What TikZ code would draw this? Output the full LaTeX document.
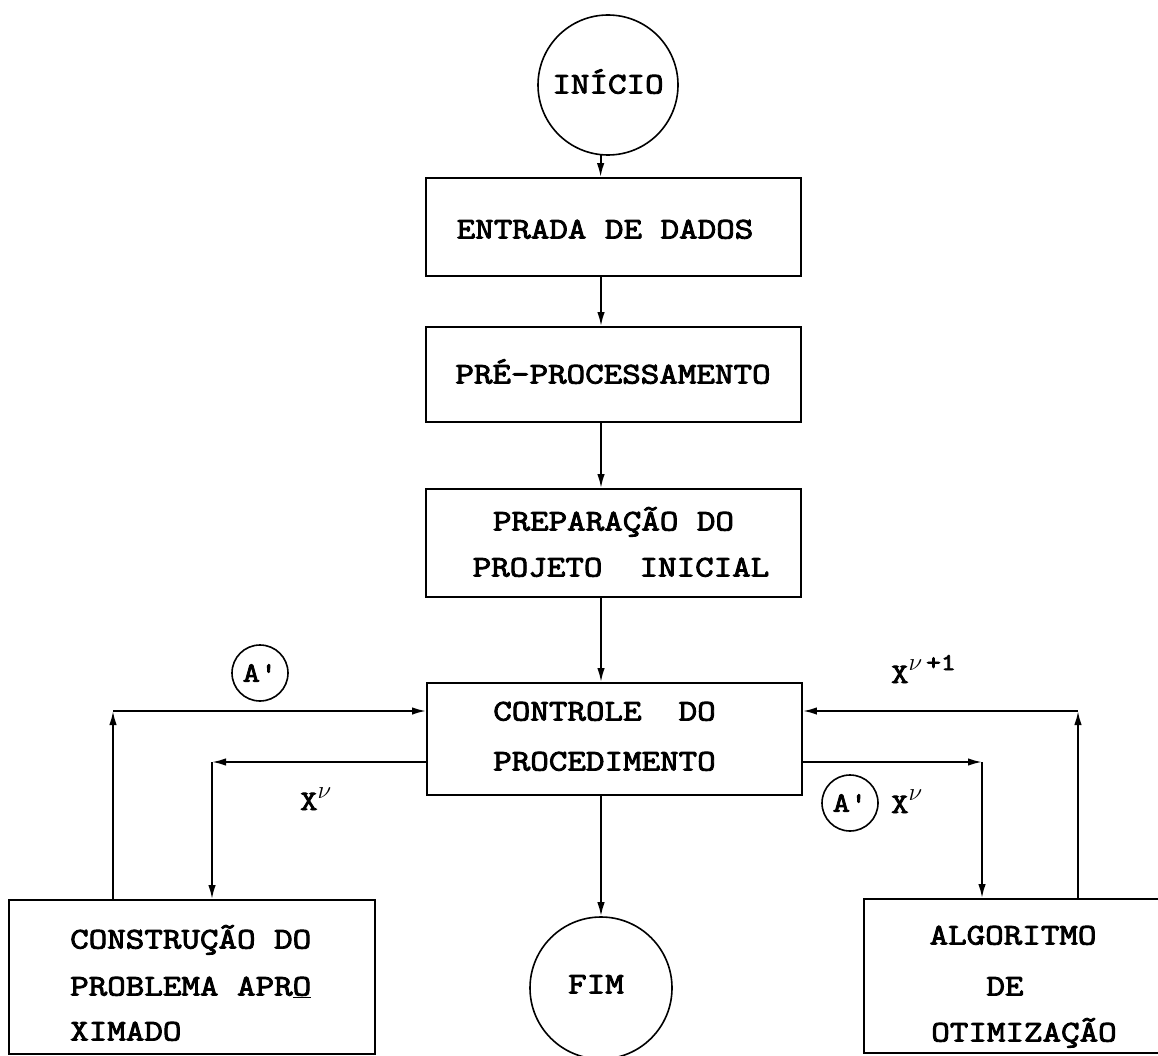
\documentclass[tikz,border=0pt]{standalone}
\usepackage{fontspec}
\newfontfamily\tw{Latin Modern Mono}[FakeStretch=1.2,FakeBold=3]
\usetikzlibrary{arrows.meta}
\begin{document}
\begin{tikzpicture}[x=1pt,y=-1pt,
  arr/.style={line width=1.9pt,-{Latex[length=14pt,width=7.5pt]}},
  box/.style={draw,line width=1.9pt,rectangle,inner sep=0pt},
  rnd/.style={draw,line width=1.6pt,circle,inner sep=0pt},
  txt/.style={font=\tw\fontsize{30}{30}\selectfont,inner sep=0pt,anchor=base},
  sml/.style={font=\tw\fontsize{28}{28}\selectfont,inner sep=0pt,anchor=base west},
  acirc/.style={rnd,minimum size=56pt,font=\tw\fontsize{28}{28}\selectfont}
]
\useasboundingbox (0,0) rectangle (1158,1056);
\clip (0,0) rectangle (1158,1056);
\fill[white] (0,0) rectangle (1158,1056);

% shapes
\node[rnd,minimum size=140pt] (ini) at (608,85) {};
\node[box,minimum width=375pt,minimum height=98pt] (ent) at (613.5,227) {};
\node[box,minimum width=375pt,minimum height=95pt] (pre) at (613.5,374.5) {};
\node[box,minimum width=375pt,minimum height=108pt] (prp) at (613.5,543) {};
\node[box,minimum width=375pt,minimum height=112pt] (ctl) at (614.5,739) {};
\node[box,minimum width=366pt,minimum height=154pt] (con) at (192,977) {};
\node[rnd,minimum size=142pt] (fim) at (601,988) {};
\node[box,minimum width=306pt,minimum height=154pt] (alg) at (1017,976) {};

% texts
\node[txt] (tini) at (608,93.5) {INÍCIO};
\node[txt] (tent) at (605,238.5) {ENTRADA DE DADOS};
\node[txt] (tpre) at (613,383.5) {PRÉ-PROCESSAMENTO};
\node[txt] (tprp1) at (613.5,530.5) {PREPARAÇÃO DO};
\node[txt] (tprp2) at (621,576.5) {PROJETO~~INICIAL};
\node[txt] (tctl1) at (604.5,720.5) {CONTROLE~~DO};
\node[txt] (tctl2) at (604.5,770.5) {PROCEDIMENTO};
\node[txt,anchor=base west] (tcon1) at (70,948.5) {CONSTRUÇÃO DO};
\node[txt,anchor=base west] (tcon2) at (70,995.5) {PROBLEMA APR\underline{O}};
\node[txt,anchor=base west] (tcon3) at (70,1040.5) {XIMADO};
\node[txt] (tfim) at (596,993.5) {FIM};
\node[txt] (talg1) at (1013,944.5) {ALGORITMO};
\node[txt] (talg2) at (1005,995.5) {DE};
\node[txt] (talg3) at (1024,1041.5) {OTIMIZAÇÃO};

% labels
\node[acirc] (a1) at (260,673) {A'};
\node[acirc] (a2) at (850,803) {A'};
\node[sml] (xl) at (300,810) {X\raisebox{12pt}{\fontsize{24}{24}\selectfont$\nu$}};
\node[sml] (xr) at (891,813) {X\raisebox{13pt}{\fontsize{24}{24}\selectfont$\nu$}};
\node[sml] (xr1) at (891,683) {X\raisebox{13pt}{\fontsize{24}{24}\selectfont$\nu$\,+1}};

% main axis
\coordinate (ax) at (601,0);
\draw[arr] (ini.264) -- (ini.264 |- ent.north);
\draw[arr] (ent.south -| ax) -- (pre.north -| ax);
\draw[arr] (pre.south -| ax) -- (prp.north -| ax);
\draw[arr] (prp.south -| ax) -- (ctl.north -| ax);
\draw[arr] (ctl.south -| ax) -- (fim.north);

% loops
\coordinate (Lup) at (113,711);
\coordinate (Ldn) at (212,762);
\coordinate (Rdn) at (982,762);
\coordinate (Rup) at (1078,711);
\draw[arr] (con.north -| Lup) -- (Lup);
\draw[arr] (Lup) -- (Lup -| ctl.west);
\draw[arr] (Ldn -| ctl.west) -- (Ldn);
\draw[arr] (Ldn) -- (Ldn |- con.north);
\draw[arr] (Rdn -| ctl.east) -- (Rdn);
\draw[arr] (Rdn) -- (Rdn |- alg.north);
\draw[arr] (alg.north -| Rup) -- (Rup);
\draw[arr] (Rup) -- (Rup -| ctl.east);
\end{tikzpicture}
\end{document}
